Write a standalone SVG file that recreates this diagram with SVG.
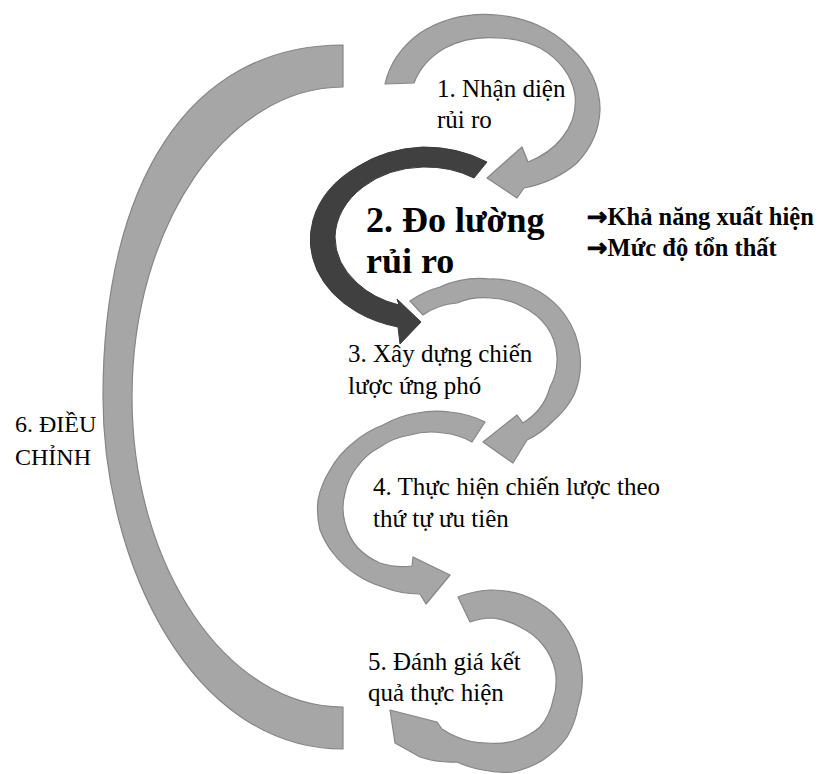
<svg xmlns="http://www.w3.org/2000/svg" width="828" height="774" viewBox="0 0 828 774">
  <style>
    .band { fill: #a6a6a6; stroke: #868686; stroke-width: 1.2; stroke-linejoin: round; }
    .dark { fill: #404040; stroke: #3a3a3a; stroke-width: 1; stroke-linejoin: round; }
    text { font-family: "Liberation Serif", "Times New Roman", serif; fill: #000; }
    .lbl { font-size: 25px; }
    .side { font-size: 24px; }
    .big { font-size: 36px; font-weight: bold; }
    .note { font-size: 24.5px; font-weight: bold; }
    .arw { font-family: "DejaVu Sans", sans-serif; stroke: #000; stroke-width: 0.9; }
  </style>
  <rect width="828" height="774" fill="#ffffff"/>

  <g id="connectors">
    <!-- 6: large return arc on the left, from node 5 back up to node 1 -->
    <path id="arc-6" class="band" d="M343,45 C187,45 103,186 103,397 C103,560 190,749 343,749 L343,707 C227,707 132,567 132,397 C132,226 227,87 343,87 Z"/>
  </g>

  <g id="node-1">
    <path class="band" d="M385,84 A108,90 0 0 1 420,33 A108,90 0 0 1 497,15 A108,90 0 0 1 570,47 A108,90 0 0 1 600,110 A108,90 0 0 1 577,163 A108,90 0 0 1 524,188 L517,198 L487,178 L522,147 L528,162 A82,67 0 0 0 562,138 A82,67 0 0 0 575,95 A82,67 0 0 0 540,48 A82,67 0 0 0 497,38 A82,67 0 0 0 445,48 A82,67 0 0 0 414,83 Z"/>
    <text class="lbl" x="437" y="97">1. Nhận diện</text>
    <text class="lbl" x="437" y="128">rủi ro</text>
  </g>

  <g id="node-2">
    <path class="dark" d="M487,162 A115,91 0 0 0 423,147 A115,91 0 0 0 357,167 A115,91 0 0 0 313,220 A115,91 0 0 0 317,270 A115,91 0 0 0 357,312 A115,91 0 0 0 398,327 L400,344 L421,322 L397,299 L399,305 A90,71 0 0 1 357,283 A90,71 0 0 1 335,237 A90,71 0 0 1 363,187 A90,71 0 0 1 423,167 A90,71 0 0 1 474,178 Z"/>
    <text class="big" x="366" y="232">2. Đo lường</text>
    <text class="big" x="366" y="273">rủi ro</text>
    <text class="note" x="587" y="225"><tspan class="arw">→</tspan>Khả năng xuất hiện</text>
    <text class="note" x="587" y="256"><tspan class="arw">→</tspan>Mức độ tổn thất</text>
  </g>

  <g id="node-3">
    <path class="band" d="M410,301 A90,85 0 0 1 440,287 A90,85 0 0 1 490,279 A90,85 0 0 1 540,292 A90,85 0 0 1 565,315 A90,85 0 0 1 580,355 A90,85 0 0 1 574,395 A90,85 0 0 1 553,421 A90,85 0 0 1 527,440 L513,463 L483,442 L517,415 L523,423 A65,60 0 0 0 550,387 A65,60 0 0 0 557,357 A65,60 0 0 0 547,327 A65,60 0 0 0 523,307 A65,60 0 0 0 490,298 A65,60 0 0 0 457,303 A65,60 0 0 0 423,315 Z"/>
    <text class="lbl" x="348" y="362">3. Xây dựng chiến</text>
    <text class="lbl" x="348" y="394">lược ứng phó</text>
  </g>

  <g id="node-4">
    <path class="band" d="M485,422 A95,90 0 0 0 450,412 A95,90 0 0 0 417,413 A95,90 0 0 0 383,425 A95,90 0 0 0 353,443 A95,90 0 0 0 330,470 A95,90 0 0 0 318,500 A95,90 0 0 0 320,530 A95,90 0 0 0 333,553 A95,90 0 0 0 357,575 A95,90 0 0 0 383,587 A95,90 0 0 0 420,594 L426,604 L450,575 L413,557 L412,566 A68,62 0 0 1 380,563 A68,62 0 0 1 357,547 A68,62 0 0 1 345,523 A68,62 0 0 1 345,493 A68,62 0 0 1 357,467 A68,62 0 0 1 380,447 A68,62 0 0 1 410,435 A68,62 0 0 1 443,433 A68,62 0 0 1 472,442 Z"/>
    <text class="lbl" x="373" y="495">4. Thực hiện chiến lược theo</text>
    <text class="lbl" x="373" y="527">thứ tự ưu tiên</text>
  </g>

  <g id="node-5">
    <path class="band" d="M458,597 A95,90 0 0 1 490,590 A95,90 0 0 1 523,595 A95,90 0 0 1 553,613 A95,90 0 0 1 573,640 A95,90 0 0 1 582,673 A95,90 0 0 1 578,707 A95,90 0 0 1 567,737 A95,90 0 0 1 543,760 A95,90 0 0 1 513,772 A95,90 0 0 1 483,770 A95,90 0 0 1 457,762 A95,90 0 0 1 420,757 L395,743 L390,710 L437,722 L442,729 A68,62 0 0 0 457,737 A68,62 0 0 0 487,743 A68,62 0 0 0 517,740 A68,62 0 0 0 540,727 A68,62 0 0 0 553,700 A68,62 0 0 0 555,670 A68,62 0 0 0 543,645 A68,62 0 0 0 520,627 A68,62 0 0 0 493,618 A68,62 0 0 0 470,622 Z"/>
    <text class="lbl" x="368" y="670">5. Đánh giá kết</text>
    <text class="lbl" x="368" y="701">quả thực hiện</text>
  </g>

  <g id="node-6">
    <text class="side" x="15" y="432">6. ĐIỀU</text>
    <text class="side" x="15" y="465">CHỈNH</text>
  </g>
</svg>
